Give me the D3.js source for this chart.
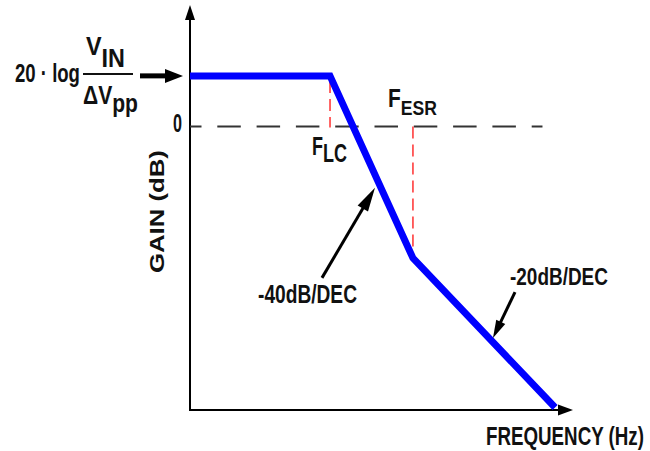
<!DOCTYPE html>
<html><head><meta charset="utf-8">
<script src="https://cdn.jsdelivr.net/npm/d3@7"></script>
<style>html,body{margin:0;padding:0;background:#fff;} svg{display:block;} text{font-family:"Liberation Sans",Arial,sans-serif;font-weight:bold;fill:#111;}</style>
</head><body><div id="chart"></div>
<script>
// ---- data (Bode asymptotes) ----
const freqs = [10, 290, 2130, 65000];          // Hz: start, F_LC, F_ESR, end
const gains = [10, 10, -26, -55.5];             // dB
const slopeLabels = ["-40dB/DEC", "-20dB/DEC"];
const zeroLineFreqs = [10, 48000];
const xDomain = [10, 100000];
const yDomain = [-56, 24];
const axisLabels = ["FREQUENCY (Hz)", "GAIN (dB)"];

const W = 650, H = 451;
const svg = d3.select("#chart").append("svg").attr("width", W).attr("height", H);
const x = d3.scaleLog().domain(xDomain).range([190, 573]);
const y = d3.scaleLinear().domain(yDomain).range([410, 5]);

function arrowHead(tip, tail, len, half, color) {
  const dx = tip[0] - tail[0], dy = tip[1] - tail[1];
  const L = Math.hypot(dx, dy), ux = dx / L, uy = dy / L;
  const bx = tip[0] - ux * len, by = tip[1] - uy * len;
  svg.append("path")
    .attr("d", `M${tip[0]},${tip[1]}L${bx - uy * half},${by + ux * half}L${bx + uy * half},${by - ux * half}Z`)
    .attr("fill", color);
  return [bx + ux * 2, by + uy * 2];
}

// axes
const x0 = x(xDomain[0]), yBot = y(yDomain[0]);
svg.append("line").attr("x1", x0).attr("y1", yBot).attr("x2", x0).attr("y2", 18)
  .attr("stroke", "#000").attr("stroke-width", 2);
arrowHead([x0, y(yDomain[1])], [x0, yBot], 15, 5, "#000");
svg.append("line").attr("x1", x0 - 1).attr("y1", yBot).attr("x2", x(xDomain[1]) - 12).attr("y2", yBot)
  .attr("stroke", "#000").attr("stroke-width", 2);
arrowHead([x(xDomain[1]), yBot], [x0, yBot], 15, 5.5, "#000");

// 0 dB dashed line
svg.append("line").attr("x1", x(zeroLineFreqs[0])).attr("x2", x(zeroLineFreqs[1]))
  .attr("y1", y(0)).attr("y2", y(0))
  .attr("stroke", "#333").attr("stroke-width", 2)
  .attr("stroke-dasharray", "23.5,15.8").attr("stroke-dashoffset", 12);

// red dashed markers
svg.append("line").attr("x1", x(freqs[1])).attr("x2", x(freqs[1]))
  .attr("y1", y(gains[1]) + 5).attr("y2", y(0) + 1)
  .attr("stroke", "#ff3030").attr("stroke-width", 1.5).attr("stroke-dasharray", "12,6");
svg.append("line").attr("x1", x(freqs[2])).attr("x2", x(freqs[2]))
  .attr("y1", y(0)).attr("y2", y(gains[2]) - 4)
  .attr("stroke", "#ff3030").attr("stroke-width", 1.5).attr("stroke-dasharray", "12,6");

// blue asymptote line
svg.append("path").datum(freqs.map((f, i) => [f, gains[i]]))
  .attr("d", d3.line().x(d => x(d[0])).y(d => y(d[1])))
  .attr("fill", "none").attr("stroke", "#0000ff").attr("stroke-width", 7)
  .attr("stroke-linejoin", "miter");

// text drawn at natural size then squeezed horizontally to the given width
function fit(t, xp, yp, len, rot) {
  const w = t.node().getComputedTextLength();
  t.attr("transform", `translate(${xp},${yp})${rot ? " rotate(-90)" : ""} scale(${len / w},1)`);
  return t;
}
function txt(s, xp, yp, size, len) {
  const t = svg.append("text").attr("font-size", size).text(s);
  return fit(t, xp, yp, len);
}
function subTxt(main, sub, xp, yp, size, subSize, dy, len) {
  const t = svg.append("text").attr("font-size", size);
  t.append("tspan").text(main);
  t.append("tspan").attr("dy", dy).attr("font-size", subSize).text(sub);
  return fit(t, xp, yp, len);
}

// "0" label
txt("0", 173, y(0) + 5.5, 26, 9);

// input arrow
const inY = y(gains[0]);
svg.append("line").attr("x1", 140).attr("x2", 168).attr("y1", inY).attr("y2", inY)
  .attr("stroke", "#000").attr("stroke-width", 5);
arrowHead([183, inY], [140, inY], 18, 7, "#000");

// 20·log VIN/ΔVpp
txt("20 · log", 15, 82, 26, 65);
subTxt("V", "IN", 86, 55, 25, 25, 12, 39);
svg.append("line").attr("x1", 83).attr("x2", 133).attr("y1", 74).attr("y2", 74)
  .attr("stroke", "#111").attr("stroke-width", 2);
subTxt("ΔV", "pp", 83, 104, 25, 25, 8, 55);

// F_LC, F_ESR
subTxt("F", "LC", 312, 155, 25, 25, 7, 35);
subTxt("F", "ESR", 388, 107, 25, 21, 8, 49);

// slope annotations
const a1tip = [x(855), y(-12.1)], a1tail = [x(239), y(-29.9)];
let b = arrowHead(a1tip, a1tail, 24, 6, "#000");
svg.append("line").attr("x1", a1tail[0]).attr("y1", a1tail[1]).attr("x2", b[0]).attr("y2", b[1])
  .attr("stroke", "#000").attr("stroke-width", 3);
txt(slopeLabels[0], 258, 303, 25, 99);

const a2tip = [x(14600), y(-41.8)], a2tail = [x(24800), y(-32.7)];
b = arrowHead(a2tip, a2tail, 18, 5, "#000");
svg.append("line").attr("x1", a2tail[0]).attr("y1", a2tail[1]).attr("x2", b[0]).attr("y2", b[1])
  .attr("stroke", "#000").attr("stroke-width", 3);
txt(slopeLabels[1], 510, 285, 24, 98);

// axis titles
txt(axisLabels[0], 486, 445, 26, 158);
const g = svg.append("text").attr("font-size", 21).text(axisLabels[1]);
const gw = g.node().getComputedTextLength();
g.attr("transform", `translate(164,273) rotate(-90) scale(${123 / gw},1)`);
</script></body></html>
